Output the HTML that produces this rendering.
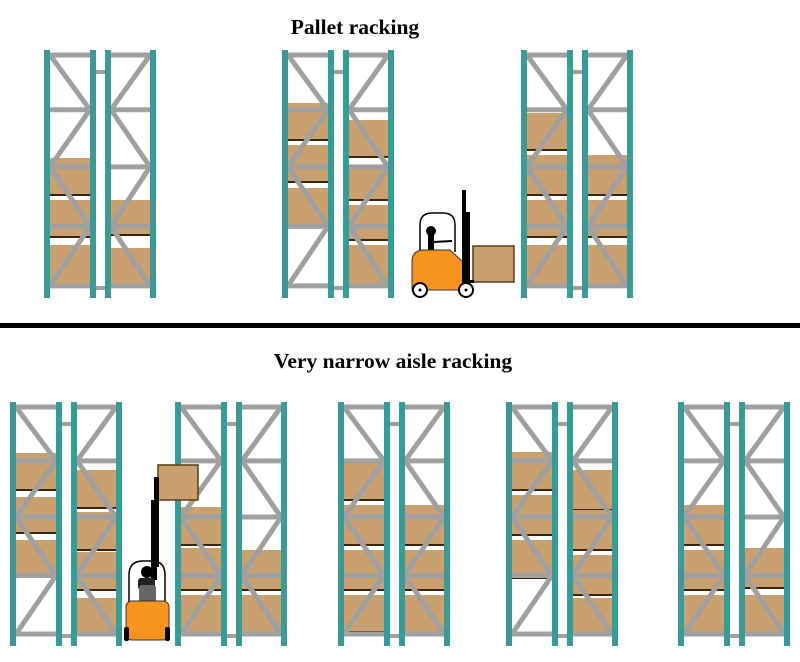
<!DOCTYPE html>
<html><head><meta charset="utf-8"><style>
body{margin:0;background:#fff;width:800px;height:662px;overflow:hidden}
svg{display:block}
text{font-family:"Liberation Serif",serif;font-weight:bold;font-size:21.5px}
</style></head><body>
<svg id="s" width="800" height="662" xmlns="http://www.w3.org/2000/svg">
<rect x="0" y="323" width="800" height="5" fill="#000"/>
<text x="355" y="34" text-anchor="middle">Pallet racking</text>
<text x="393" y="368" text-anchor="middle">Very narrow aisle racking</text>
<g id="g"></g>
</svg>
<script>
var T='#3a9a96',G='#a0a0a0',B='#c9a070',D='#3a2410';
var out='';
function rack(x,y0,y1,lb,rb){
 var h=y1-y0, lv=[0,0.23,0.47,0.72,0.97].map(function(f){return y0+5+f*(h-10)});
 var bays=[[x+6,x+46],[x+67,x+106]];
 [[lb,bays[0]],[rb,bays[1]]].forEach(function(p){p[0].forEach(function(b){
  out+='<rect x="'+p[1][0]+'" y="'+b[0]+'" width="'+(p[1][1]-p[1][0])+'" height="'+(b[1]-b[0])+'" fill="'+B+'"/>';
  out+='<rect x="'+p[1][0]+'" y="'+(b[1]-2)+'" width="'+(p[1][1]-p[1][0])+'" height="2" fill="'+D+'"/>';
 });});
 bays.forEach(function(bb,i){
  lv.forEach(function(l){out+='<line x1="'+bb[0]+'" y1="'+l+'" x2="'+bb[1]+'" y2="'+l+'" stroke="'+G+'" stroke-width="5"/>';});
  var pts='';
  lv.forEach(function(l,k){var left=(k%2==0)!=(i==1);pts+=(left?bb[0]:bb[1])+','+l+' ';});
  out+='<polyline points="'+pts+'" fill="none" stroke="'+G+'" stroke-width="5"/>';
 });
 out+='<rect x="'+(x+50)+'" y="'+(y0+20)+'" width="13" height="4" fill="'+G+'"/>';
 out+='<rect x="'+(x+50)+'" y="'+(y1-12)+'" width="13" height="4" fill="'+G+'"/>';
 [x,x+46,x+61,x+106].forEach(function(u){out+='<rect x="'+u+'" y="'+y0+'" width="6" height="'+h+'" fill="'+T+'"/>';});
}
rack(44,50,298,[[158,196],[200,238],[245,286]],[[200,236],[248,286]]);
rack(282,50,298,[[103,141],[145,183],[188,228]],[[120,158],[165,201],[205,241],[245,286]]);
rack(521,50,298,[[113,151],[155,196],[200,238],[245,286]],[[155,196],[200,238],[245,286]]);
var yb0=402,yb1=646;
rack(10,yb0,yb1,[[453,491],[497,534],[540,578]],[[470,509],[512,551],[552,591],[598,636]]);
rack(175,yb0,yb1,[[507,546],[548,591],[595,636]],[[550,591],[595,636]]);
rack(338,yb0,yb1,[[462,501],[505,546],[550,591],[595,633]],[[505,546],[550,591],[595,636]]);
rack(506,yb0,yb1,[[452,491],[495,536],[540,579]],[[470,511],[510,551],[555,596],[598,636]]);
rack(678,yb0,yb1,[[505,546],[550,591],[595,636]],[[548,589],[595,636]]);
document.getElementById('g').innerHTML=out;
</script>
<svg width="800" height="662" style="position:absolute;left:0;top:0" xmlns="http://www.w3.org/2000/svg">
<rect x="473" y="246" width="41" height="36" fill="#c9a070" stroke="#5a3a1a" stroke-width="1.5"/>
<path d="M420 250 L420 225 Q420 213 432 213 L443 213 Q455 213 455 225 L455 252" fill="none" stroke="#000" stroke-width="1.5"/>
<circle cx="431" cy="231" r="5" fill="#000"/>
<rect x="428" y="235" width="6" height="16" fill="#000"/>
<line x1="433" y1="242" x2="452" y2="241" stroke="#000" stroke-width="2"/>
<path d="M412 262 Q412 250 424 250 L450 250 L463 262 L465 290 L412 290 Z" fill="#f7941d" stroke="#333" stroke-width="1"/>
<rect x="462" y="190" width="4" height="95" fill="#000"/>
<rect x="466" y="212" width="4" height="73" fill="#000"/>
<rect x="466" y="280" width="8" height="3" fill="#000"/>
<circle cx="420" cy="290" r="7" fill="#fff" stroke="#000" stroke-width="2"/><circle cx="420" cy="290" r="1.5" fill="#000"/>
<circle cx="466" cy="290" r="7" fill="#fff" stroke="#000" stroke-width="2"/><circle cx="466" cy="290" r="1.5" fill="#000"/>
<rect x="158" y="465" width="40" height="35" fill="#c9a070" stroke="#5a3a1a" stroke-width="1.5"/>
<rect x="154" y="477" width="5" height="90" fill="#000"/>
<rect x="151" y="500" width="6" height="80" fill="#000"/>
<path d="M129 610 L129 575 Q129 561 143 561 L152 561 Q165 561 165 575 L165 610" fill="none" stroke="#000" stroke-width="1.5"/>
<circle cx="147" cy="572" r="6" fill="#000"/>
<rect x="138" y="578" width="17" height="12" rx="3" fill="#222"/>
<rect x="139" y="585" width="17" height="17" rx="3" fill="#666"/>
<rect x="126" y="601" width="43" height="39" rx="6" fill="#f7941d" stroke="#333" stroke-width="1"/>
<rect x="124" y="627" width="5" height="14" rx="2" fill="#000"/>
<rect x="165" y="627" width="5" height="14" rx="2" fill="#000"/>
</svg>
</body></html>
